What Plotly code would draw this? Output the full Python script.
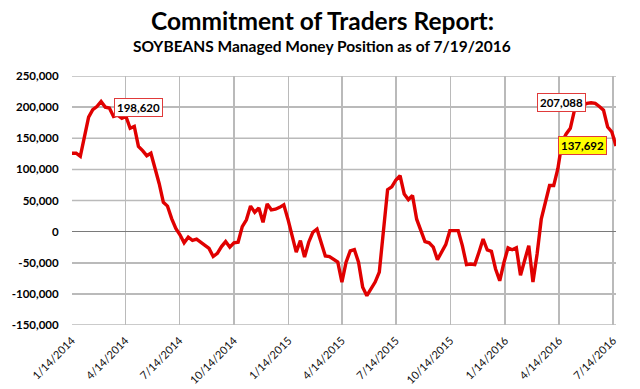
import pandas as pd
import plotly.graph_objects as go

# ---- data ----
start_date = "2014-01-14"   # weekly COT report dates (Tuesdays)
positions = [
    126000, 126000, 121000, 154000, 184000, 196000, 201000, 209000, 200000, 198620,
    185000, 187000, 182000, 185000, 166000, 169000, 137000, 130000, 122000, 126000,
    103000, 77000, 47000, 41000, 21000, 5000, -5000, -18000, -9000, -14000,
    -12000, -17000, -22500, -27000, -40000, -35000, -24000, -16000, -25000, -18000,
    -17000, 8000, 19000, 41000, 31000, 38000, 15000, 44500, 35000, 36000,
    39000, 43000, 20000, -9000, -33000, -14500, -41000, -17000, -1000, 4000,
    -17000, -39000, -40000, -45000, -49000, -81000, -49000, -31000, -29000, -49000,
    -89500, -103000, -92000, -81000, -65000, 0, 67500, 72000, 83000, 90000,
    60500, 51500, 58000, 20000, 1600, -16000, -18000, -25000, -45000, -33000,
    -21000, 1600, 1600, 1600, -22500, -53000, -52000, -53000, -33000, -12000,
    -29500, -31600, -60000, -79000, -50000, -26000, -29000, -26000, -70000, -44000,
    -22500, -81000, -36000, 20000, 50000, 74000, 74000, 101000, 144000, 157000,
    166000, 195000, 200000, 203000, 206000, 207088, 206000, 201000, 195000, 168000,
    160000, 137692,
]
dates = pd.date_range(start_date, periods=len(positions), freq="7D")

x_tick_dates = ["2014-01-14", "2014-04-14", "2014-07-14", "2014-10-14", "2015-01-14",
                "2015-04-14", "2015-07-14", "2015-10-14", "2016-01-14", "2016-04-14",
                "2016-07-14"]
x_tick_labels = ["1/14/2014", "4/14/2014", "7/14/2014", "10/14/2014", "1/14/2015",
                 "4/14/2015", "7/14/2015", "10/14/2015", "1/14/2016", "4/14/2016",
                 "7/14/2016"]
y_tick_vals = [-150000, -100000, -50000, 0, 50000, 100000, 150000, 200000, 250000]
y_tick_labels = ["-150,000", "-100,000", "-50,000", "0", "50,000", "100,000",
                 "150,000", "200,000", "250,000"]

# labelled points: (index, text, side, fill)
labels = [
    (9, "198,620", "left", "white"),
    (125, "207,088", "right", "white"),
    (131, "137,692", "right", "#ffff00"),
]

title_text = "Commitment of Traders Report:"
subtitle_text = "SOYBEANS Managed Money Position as of 7/19/2016"

GRID = "#bababa"

# ---- figure ----
fig = go.Figure()

annotations = []
for idx, txt, side, fill in labels:
    annotations.append(dict(
        x=dates[idx], y=positions[idx], xref="x", yref="y",
        text="<b>" + txt + "</b>", showarrow=False,
        xanchor=side, yanchor="middle",
        xshift=5 if side == "left" else (-9 if idx == len(positions) - 1 else -5),
        font=dict(family="Lato", size=11.5, color="black"),
        bgcolor=fill, bordercolor="#e03a3a", borderwidth=1, borderpad=2,
    ))

annotations.append(dict(
    x=(322 - 72) / 544, y=1 + (76 - 21) / 249, xref="paper", yref="paper",
    text="<b>" + title_text + "</b>", showarrow=False,
    xanchor="center", yanchor="middle",
    font=dict(family="Lato", size=24.5, color="black"),
))
annotations.append(dict(
    x=(322 - 72) / 544, y=1 + (76 - 46) / 249, xref="paper", yref="paper",
    text="<b>" + subtitle_text + "</b>", showarrow=False,
    xanchor="center", yanchor="middle",
    font=dict(family="Lato", size=15.5, color="black"),
))

# horizontal grid lines also as shapes (from the y tick array)
shapes = [
    dict(type="line", xref="paper", yref="y", x0=0, x1=1, y0=v, y1=v,
         line=dict(color=GRID, width=1.5), layer="below")
    for v in y_tick_vals if v != 0
]

fig.add_trace(go.Scatter(
    x=dates, y=positions, mode="lines",
    line=dict(color="#e00000", width=3.4),
    hoverinfo="skip", showlegend=False,
))

fig.update_layout(
    width=640, height=389, autosize=False,
    margin=dict(l=72, r=24, t=76, b=64, autoexpand=False),
    paper_bgcolor="white", plot_bgcolor="white",
    annotations=annotations, shapes=shapes,
    xaxis=dict(
        type="date", range=[dates[0], dates[-1]], automargin=False,
        tickmode="array", tickvals=x_tick_dates, ticktext=x_tick_labels,
        tickangle=-45, showgrid=True, gridcolor=GRID, gridwidth=1.5,
        zeroline=False, showline=False,
        ticks="outside", ticklen=4, tickcolor="rgba(0,0,0,0)",
        tickfont=dict(family="Lato", size=11, color="#111111"),
    ),
    yaxis=dict(
        range=[y_tick_vals[0], y_tick_vals[-1]], automargin=False,
        tickmode="array", tickvals=y_tick_vals,
        ticktext=["<b>" + t + "</b>" for t in y_tick_labels],
        showgrid=True, gridcolor=GRID, gridwidth=1.5,
        zeroline=True, zerolinecolor="#7a7a7a", zerolinewidth=1,
        showline=False,
        ticks="outside", ticklen=10, tickcolor="rgba(0,0,0,0)",
        tickfont=dict(family="Lato", size=11.5, color="black"),
    ),
)

fig.write_html(
    "out.html",
    config={"displayModeBar": False, "staticPlot": True},
    post_script="document.body.style.margin='0';document.body.style.overflow='hidden';",
)
